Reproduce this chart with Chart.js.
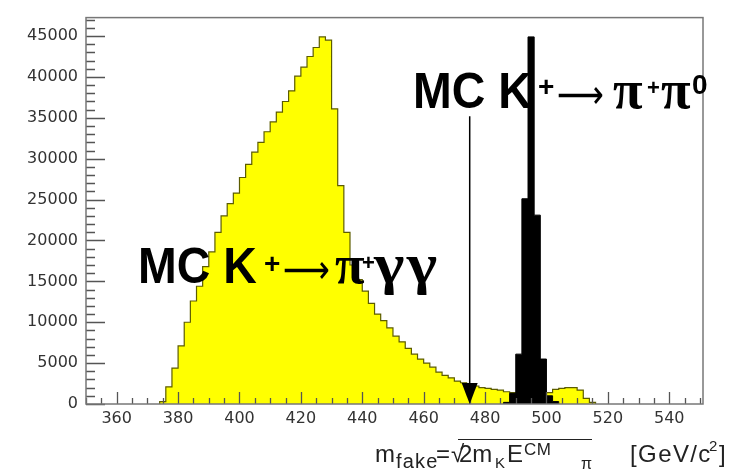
<!DOCTYPE html>
<html>
<head>
<meta charset="utf-8">
<script src="https://cdn.jsdelivr.net/npm/chart.js@4.4.0/dist/chart.umd.min.js"></script>
<style>
body { margin: 0; background: #fff; }
#wrap { position: relative; width: 746px; height: 472px; }
#wrap span { position: absolute; white-space: nowrap; }
.big { font-family: "Liberation Sans", Arial, sans-serif; font-weight: bold; font-size: 50px; line-height: 50px;
       transform: scaleX(0.93); transform-origin: 0 0; color: #000; }
.sup { font-family: "Liberation Sans", Arial, sans-serif; font-weight: bold; font-size: 28px; line-height: 28px; color: #000; }
.sup.sm { font-size: 22px; line-height: 22px; }
.arr { font-family: "DejaVu Sans", sans-serif; font-size: 40px; line-height: 40px; color: #000;
       transform: scaleX(0.82); transform-origin: 0 0; }
.gr { font-family: "Liberation Serif", serif; font-weight: bold; font-size: 54px; line-height: 54px; color: #000; }
.xt { font-family: "Liberation Sans", Arial, sans-serif; color: #222; }
</style>
</head>
<body>
<div id="wrap">
  <canvas id="histo"></canvas>

  <span class="big" style="left:413px; top:66px;">MC K</span>
  <span class="sup" style="left:538px; top:73px;">+</span>
  <span class="arr" style="left:557px; top:74px;">⟶</span>
  <span class="gr"  style="left:613px; top:63px;">π</span>
  <span class="sup sm" style="left:647px; top:77px;">+</span>
  <span class="gr"  style="left:661px; top:63px;">π</span>
  <span class="sup" style="left:692px; top:71px;">0</span>

  <span class="big" style="left:138px; top:241px;">MC K</span>
  <span class="sup" style="left:264px; top:250px;">+</span>
  <span class="arr" style="left:283px; top:249px;">⟶</span>
  <span class="gr"  style="left:335px; top:238px;">π</span>
  <span class="sup sm" style="left:362px; top:252px;">+</span>
  <span class="gr"  style="left:374px; top:235px; font-size:58px; line-height:58px; letter-spacing:2px;
                      transform:scaleX(1.12); transform-origin:0 0;">γγ</span>

  <span class="xt" style="left:375px; top:442px; font-size:24px; line-height:24px;">m</span>
  <span class="xt" style="left:396px; top:451px; font-size:20px; line-height:20px; letter-spacing:1.2px;">fake</span>
  <span class="xt" style="left:436px; top:442px; font-size:24px; line-height:24px;">=</span>
  <span class="xt" style="left:451px; top:442px; font-size:24px; line-height:24px;">√</span>
  <span class="xt" style="left:458px; top:439px; width:134px; height:0; border-top:1px solid #222;"></span>
  <span class="xt" style="left:459px; top:442px; font-size:24px; line-height:24px;">2m</span>
  <span class="xt" style="left:495px; top:455px; font-size:15px; line-height:15px;">K</span>
  <span class="xt" style="left:507px; top:442px; font-size:24px; line-height:24px;">E</span>
  <span class="xt" style="left:524px; top:441px; font-size:17px; line-height:17px; letter-spacing:0.5px;">CM</span>
  <span class="xt" style="left:581px; top:456px; font-size:16px; line-height:16px;">π</span>
  <span class="xt" style="left:630px; top:442px; font-size:24px; line-height:24px; letter-spacing:1.4px;">[GeV/c</span>
  <span class="xt" style="left:709px; top:438px; font-size:15px; line-height:15px;">2</span>
  <span class="xt" style="left:719px; top:442px; font-size:24px; line-height:24px;">]</span>
</div>
<script>
// MC K+ -> pi+ gamma gamma, left edge of each 2 GeV bin
const ggBins = [374, 376, 378, 380, 382, 384, 386, 388, 390, 392, 394, 396, 398, 400, 402, 404,
  406, 408, 410, 412, 414, 416, 418, 420, 422, 424, 426, 428, 430, 432, 434, 436, 438, 440,
  442, 444, 446, 448, 450, 452, 454, 456, 458, 460, 462, 464, 466, 468, 470, 472, 474, 476,
  478, 480, 482, 484, 486, 488, 490, 492, 494, 496, 498, 500, 502, 504, 506, 508, 510, 512, 514];
const ggCounts = [300, 2100, 4400, 7100, 10000, 12600, 14400, 16800, 18600, 21000, 23000, 24500,
  25800, 27700, 29300, 30800, 32000, 33300, 34500, 35700, 37000, 38300, 40100, 41200, 42500,
  43600, 44900, 44500, 36100, 26700, 21000, 17000, 15200, 13800, 12300, 11000, 10200, 9300,
  8300, 7600, 6800, 6100, 5500, 5000, 4500, 3900, 3500, 3200, 2800, 2600, 2500, 2200, 2000,
  1900, 1800, 1700, 1500, 1400, 1300, 1200, 1200, 1200, 1200, 1400, 1800, 1900, 2000, 2000,
  1700, 700, 200];
const ggEnd = 516;

// MC K+ -> pi+ pi0
const pi0Bins = [486, 488, 490, 492, 494, 496, 498, 500, 502];
const pi0Counts = [200, 1300, 6100, 25100, 44900, 23100, 5500, 1000, 300];
const pi0End = 504;

// cut line
const cutX = 475;
const cutTop = 35200;

// axes
const xTickLabels = [360, 380, 400, 420, 440, 460, 480, 500, 520, 540];
const yTickLabels = [0, 5000, 10000, 15000, 20000, 25000, 30000, 35000, 40000, 45000];
const xMin = 350, xMax = 551;
const yMin = 0, yMax = 47260;

// histogram outline: each count is held from its bin edge to the next one
function stepPoints(bins, counts, end) {
  let pts = [{x: bins[0], y: 0}];
  for (let i = 0; i < bins.length; i++) pts.push({x: bins[i], y: counts[i]});
  pts.push({x: end, y: 0});
  return pts;
}

// frame, inner ticks and the arrow, ROOT style
const rootFrame = {
  id: 'rootFrame',
  afterDatasetsDraw(chart) {
    const ctx = chart.ctx;
    const a = chart.chartArea;
    const xs = chart.scales.x, ys = chart.scales.y;
    ctx.save();
    ctx.strokeStyle = '#555';
    ctx.lineWidth = 1.3;
    ctx.beginPath();
    for (let v = 0; v <= yMax; v += 1000) {
      let y = Math.round(ys.getPixelForValue(v)) + 0.5;
      let len = (v % 5000 == 0) ? 19 : 9;
      ctx.moveTo(a.left, y);
      ctx.lineTo(a.left + len, y);
    }
    for (let v = xMin; v <= xMax; v += 5) {
      let x = Math.round(xs.getPixelForValue(v)) + 0.5;
      let len = (v % 20 == 0) ? 12 : 6;
      ctx.moveTo(x, a.bottom);
      ctx.lineTo(x, a.bottom - len);
    }
    ctx.stroke();
    ctx.strokeStyle = '#777';
    ctx.lineWidth = 1.5;
    ctx.strokeRect(a.left, a.top, a.right - a.left, a.bottom - a.top);

    // arrow
    let ax = xs.getPixelForValue(cutX);
    let top = ys.getPixelForValue(cutTop);
    let bot = ys.getPixelForValue(0);
    ctx.strokeStyle = '#000';
    ctx.fillStyle = '#000';
    ctx.lineWidth = 1.5;
    ctx.beginPath();
    ctx.moveTo(ax, top);
    ctx.lineTo(ax, bot - 18);
    ctx.stroke();
    ctx.beginPath();
    ctx.moveTo(ax - 8, bot - 21);
    ctx.lineTo(ax + 8, bot - 21);
    ctx.lineTo(ax, bot);
    ctx.closePath();
    ctx.fill();
    ctx.restore();
  }
};

const histo_config = {
  type: 'line',
  data: {
    datasets: [{
      label: 'K+ -> pi+ pi0',
      data: stepPoints(pi0Bins, pi0Counts, pi0End),
      stepped: 'before',
      borderColor: '#000',
      backgroundColor: '#000',
      borderWidth: 1,
      pointRadius: 0,
      fill: 'origin',
      order: 0
    }, {
      label: 'K+ -> pi+ gamma gamma',
      data: stepPoints(ggBins, ggCounts, ggEnd),
      stepped: 'before',
      borderColor: '#5c5c00',
      backgroundColor: '#ffff00',
      borderWidth: 1.2,
      pointRadius: 0,
      fill: 'origin',
      order: 1
    }]
  },
  options: {
    responsive: true,
    maintainAspectRatio: false,
    animation: false,
    layout: { padding: { top: 7, right: 43 } },
    plugins: { legend: { display: false }, tooltip: { enabled: false } },
    scales: {
      x: {
        type: 'linear',
        min: xMin,
        max: xMax,
        grid: { display: false, drawTicks: false },
        border: { display: false },
        afterBuildTicks: (s) => { s.ticks = xTickLabels.map(v => ({value: v})); },
        afterFit: (s) => { s.height = 68; },
        ticks: { padding: 5, maxRotation: 0, color: '#333',
                 font: { family: 'DejaVu Sans', size: 16 },
                 callback: (v) => String(v) }
      },
      y: {
        min: yMin,
        max: yMax,
        grid: { display: false, drawTicks: false },
        border: { display: false },
        afterBuildTicks: (s) => { s.ticks = yTickLabels.map(v => ({value: v})); },
        afterFit: (s) => { s.width = 86; },
        ticks: { padding: 8, color: '#333', font: { family: 'DejaVu Sans', size: 16 },
                 callback: (v) => String(v) }
      }
    }
  },
  plugins: [rootFrame]
};

var histoChart = new Chart(document.getElementById('histo'), histo_config);
</script>
</body>
</html>
